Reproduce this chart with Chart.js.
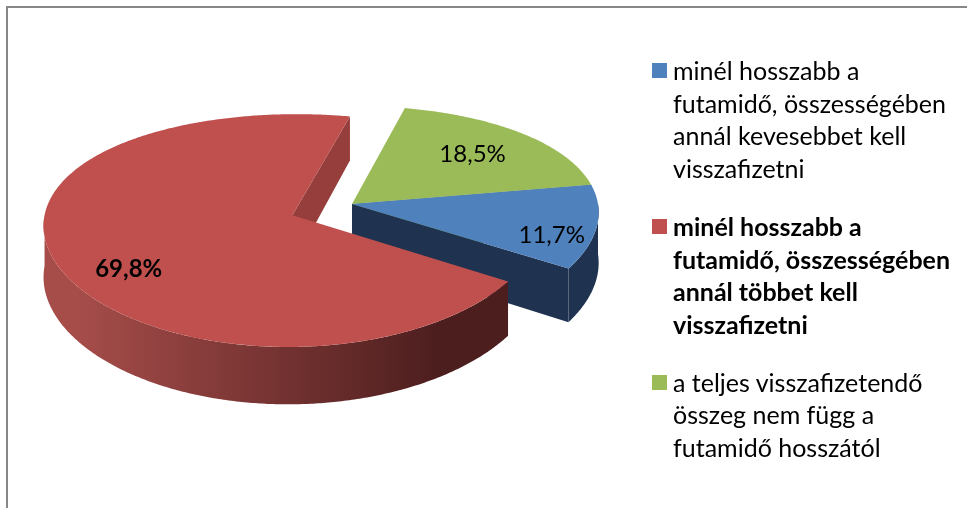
<!DOCTYPE html>
<html>
<head>
<meta charset="utf-8">
<script src="https://cdn.jsdelivr.net/npm/chart.js@4.4.1/dist/chart.umd.min.js"></script>
<style>
    body { margin: 0; background: #fff; width: 967px; height: 508px; overflow: hidden; position: relative; font-family: Lato, "Open Sans", sans-serif; }
    #frame { position: absolute; left: 6px; top: 6px; width: 970px; height: 510px; border-top: 2px solid #878787; border-left: 2px solid #878787; }
    #pieChart { position: absolute; left: 0; top: 0; }
    #legend { position: absolute; left: 652px; top: 54px; color: #000; font-size: 25px; line-height: 32.7px; white-space: nowrap; }
    .item { position: relative; padding-left: 21px; margin-bottom: 25px; }
    .item.bold { font-weight: bold; }
    .swatch { position: absolute; left: 0; top: 9px; width: 15px; height: 15px; }
</style>
</head>
<body>
<div id="frame"></div>
<canvas id="pieChart" width="967" height="508"></canvas>
<div id="legend"></div>
<script>
// Chart data
const categories = [
    ['minél hosszabb a', 'futamidő, összességében', 'annál kevesebbet kell', 'visszafizetni'],
    ['minél hosszabb a', 'futamidő, összességében', 'annál többet kell', 'visszafizetni'],
    ['a teljes visszafizetendő', 'összeg nem függ a', 'futamidő hosszától']
];
const shares = [11.7, 69.8, 18.5];
const shareLabels = ['11,7%', '69,8%', '18,5%'];

// Styles
const topColors = ['#4f81bd', '#c0504d', '#9bbb59'];
const endFaceColors = ['#1f3350', '#953e3c', '#76923c'];
const rimLight = ['#1f3350', '#a64d4a', '#76923c'];
const rimDark = ['#1f3350', '#4d1e1e', '#5f7530'];
const boldItems = [false, true, false];
// where the value labels sit inside each slice (fraction of angle span / radius)
const labelAngle = [0.68, 0.45, 0.51];
const labelRadius = [0.84, 0.77, 0.69];

const SQUASH = 0.461;    // vertical tilt of the disc
const PERSP_Y = 0.000546; // simple perspective: nearer points are drawn larger
const PERSP_X = 0.0003;
const DEPTH = 50;

// Project a point of a slice (radius r, angle a, dropped by 'drop') to the screen
function proj(arc, r, a, drop) {
    const off = arc.options.offset || 0;
    const mid = (arc.startAngle + arc.endAngle) / 2;
    const u = off * Math.cos(mid) + r * Math.cos(a);
    const v = off * Math.sin(mid) + r * Math.sin(a);
    const sx = 1 + PERSP_X * v;
    const sy = 1 + PERSP_Y * v;
    return [arc.x + u * sx, arc.y + (SQUASH * v + drop) * sy];
}

function arcPoints(arc, a1, a2, drop) {
    const pts = [];
    const n = Math.max(2, Math.ceil(Math.abs(a2 - a1) / 0.01));
    for (let k = 0; k <= n; k++) {
        pts.push(proj(arc, arc.outerRadius, a1 + (a2 - a1) * k / n, drop));
    }
    return pts;
}

function fillPoly(ctx, pts, fill) {
    ctx.beginPath();
    pts.forEach((p, k) => k ? ctx.lineTo(p[0], p[1]) : ctx.moveTo(p[0], p[1]));
    ctx.closePath();
    ctx.fillStyle = fill;
    ctx.fill();
}

function drawTop(ctx, arc, color) {
    const pts = [proj(arc, 0, 0, 0)].concat(arcPoints(arc, arc.startAngle, arc.endAngle, 0));
    fillPoly(ctx, pts, color);
}

function drawEndFace(ctx, arc, angle, color) {
    const R = arc.outerRadius;
    fillPoly(ctx, [
        proj(arc, 0, angle, 0),
        proj(arc, R, angle, 0),
        proj(arc, R, angle, DEPTH),
        proj(arc, 0, angle, DEPTH)
    ], color);
}

function drawRim(ctx, arc, fill) {
    // front half of the cylinder is 0..PI (and 2PI..3PI)
    [0, 2 * Math.PI].forEach(base => {
        const a1 = Math.max(arc.startAngle, base);
        const a2 = Math.min(arc.endAngle, base + Math.PI);
        if (a2 <= a1) return;
        const pts = arcPoints(arc, a1, a2, 0).concat(arcPoints(arc, a2, a1, DEPTH));
        fillPoly(ctx, pts, fill);
    });
}

// Draws the pie as a tilted 3D disc
const pie3d = {
    id: 'pie3d',
    beforeDatasetsDraw(chart) {
        const ctx = chart.ctx;
        const arcs = chart.getDatasetMeta(0).data;
        const order = arcs.map((a, i) => i).sort((i, j) => {
            const mi = Math.sin((arcs[i].startAngle + arcs[i].endAngle) / 2);
            const mj = Math.sin((arcs[j].startAngle + arcs[j].endAngle) / 2);
            return mi - mj;
        });
        ctx.save();
        order.forEach(i => {
            const arc = arcs[i];
            // end faces facing the viewer
            if (Math.sin(arc.startAngle - Math.PI / 2) > 0) drawEndFace(ctx, arc, arc.startAngle, endFaceColors[i]);
            if (Math.sin(arc.endAngle + Math.PI / 2) > 0) drawEndFace(ctx, arc, arc.endAngle, endFaceColors[i]);
            const grad = ctx.createLinearGradient(arc.x - arc.outerRadius - 30, 0, arc.x + arc.outerRadius * 0.35, 0);
            grad.addColorStop(0, rimLight[i]);
            grad.addColorStop(1, rimDark[i]);
            drawRim(ctx, arc, grad);
            drawTop(ctx, arc, topColors[i]);
        });
        ctx.restore();
        return false;
    },
    afterDraw(chart) {
        const ctx = chart.ctx;
        const arcs = chart.getDatasetMeta(0).data;
        ctx.save();
        ctx.textAlign = 'center';
        ctx.textBaseline = 'middle';
        ctx.fillStyle = '#000';
        arcs.forEach((arc, i) => {
            const a = arc.startAngle + (arc.endAngle - arc.startAngle) * labelAngle[i];
            const p = proj(arc, arc.outerRadius * labelRadius[i], a, 0);
            ctx.font = (boldItems[i] ? 'bold ' : '') + '24px Lato';
            ctx.fillText(shareLabels[i], p[0], p[1]);
        });
        ctx.restore();
    }
};

const ctx = document.getElementById('pieChart').getContext('2d');
const pieChart = new Chart(ctx, {
    type: 'pie',
    data: {
        labels: categories,
        datasets: [{
            data: shares,
            backgroundColor: topColors,
            offset: [0, 64, 0],
            borderWidth: 0
        }]
    },
    options: {
        responsive: false,
        animation: false,
        rotation: 80,
        radius: 246,
        layout: { padding: { left: 0, right: 263, top: 0, bottom: 100 } },
        plugins: {
            legend: { display: false },
            tooltip: { enabled: false }
        }
    },
    plugins: [pie3d]
});

// Legend built from the same arrays
const legend = document.getElementById('legend');
categories.forEach((lines, i) => {
    const item = document.createElement('div');
    item.className = 'item' + (boldItems[i] ? ' bold' : '');
    const sw = document.createElement('span');
    sw.className = 'swatch';
    sw.style.background = topColors[i];
    item.appendChild(sw);
    lines.forEach(line => {
        const row = document.createElement('div');
        row.textContent = line;
        item.appendChild(row);
    });
    legend.appendChild(item);
});
</script>
</body>
</html>
